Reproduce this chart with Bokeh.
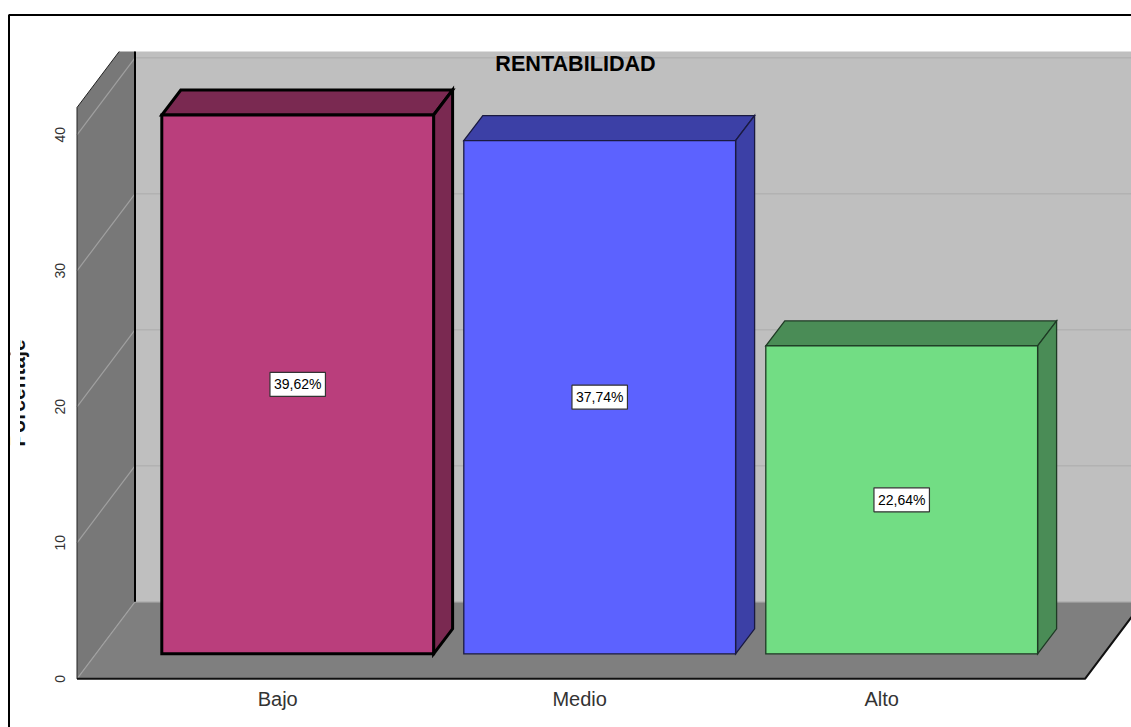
from bokeh.plotting import figure
from bokeh.models import Range1d, FixedTicker, LinearAxis, BoxAnnotation
from bokeh.core.properties import value
from bokeh.embed import file_html
from bokeh.resources import INLINE

categories = ["Bajo", "Medio", "Alto"]
percentages = [39.62, 37.74, 22.64]
value_labels = ["39,62%", "37,74%", "22,64%"]
y_ticks = [0, 10, 20, 30, 40]
front_colors = ["#ba3e7c", "#5c62ff", "#72dd84"]
dark_colors = ["#7a2951", "#3c40a6", "#4a8c56"]
edge_colors = ["#000000", "#1a1a40", "#1e3a24"]
edge_widths = [3, 1.3, 1.3]

# geometry of the pseudo-3D box (px per unit)
PX_CAT, PX_VAL, X0_PX, Y0_PX = 302.0, 13.6, 297.2, 678.3
def X(px): return (px - X0_PX) / PX_CAT
def Y(px): return (Y0_PX - px) / PX_VAL

WALL_DX, WALL_DY = 58 / PX_CAT, 77 / PX_VAL
BAR_DX, BAR_DY = 19 / PX_CAT, 25 / PX_VAL
BAR_W = 0.9
BAR_BASE = 25 / PX_VAL
TICK_SHIFT = 20 / PX_CAT
AX_L, AX_R = X(76.5), X(1084.5)
WALL_TOP = Y(107)
CUT = Y(51)
CUT_X = AX_L + WALL_DX * (CUT - WALL_TOP) / WALL_DY

p = figure(width=1131, height=727, output_backend="svg", toolbar_location=None,
           x_range=Range1d(X(0), X(1131)), y_range=Range1d(Y(727), Y(0)),
           min_border_left=0, min_border_right=0, min_border_top=0, min_border_bottom=0,
           outline_line_color=None, background_fill_color="white", border_fill_color="white",
           x_axis_location=None, y_axis_location=None)
p.grid.visible = False

# walls and floor
p.patch([AX_L + WALL_DX, AX_R + WALL_DX, AX_R + WALL_DX, AX_L + WALL_DX],
        [WALL_DY, WALL_DY, CUT, CUT], fill_color="#bfbfbf", line_color=None)
p.patch([AX_L, AX_L + WALL_DX, AX_L + WALL_DX, CUT_X, AX_L],
        [0, WALL_DY, CUT, CUT, WALL_TOP], fill_color="#787878", line_color=None)
p.patch([AX_L, AX_R, AX_R + WALL_DX, AX_L + WALL_DX],
        [0, 0, WALL_DY, WALL_DY], fill_color="#7f7f7f", line_color=None)

# gridlines
p.multi_line([[AX_L + WALL_DX, AX_R + WALL_DX] for _ in y_ticks],
             [[t + WALL_DY, t + WALL_DY] for t in y_ticks], line_color="#b2b2b2", line_width=1.5)
p.multi_line([[AX_L, AX_L + WALL_DX] for _ in y_ticks],
             [[t, t + WALL_DY] for t in y_ticks], line_color="#a0a0a0", line_width=1.2)

# box edges
p.line([AX_L + WALL_DX, AX_L + WALL_DX], [WALL_DY, CUT], line_color="#000000", line_width=2)
p.line([AX_L, AX_L], [0, WALL_TOP], line_color="#222222", line_width=1)
p.line([AX_L, CUT_X], [WALL_TOP, CUT], line_color="#222222", line_width=1)
p.line([AX_L, AX_R, AX_R + WALL_DX], [0, 0, WALL_DY], line_color="#111111", line_width=2)

# bars
for i, v in enumerate(percentages):
    l, r = i - BAR_W / 2, i + BAR_W / 2
    b, t = BAR_BASE, BAR_BASE + v
    p.patch([l, r, r + BAR_DX, l + BAR_DX], [t, t, t + BAR_DY, t + BAR_DY],
            fill_color=dark_colors[i], line_color=edge_colors[i], line_width=edge_widths[i], line_join="miter")
    p.patch([r, r + BAR_DX, r + BAR_DX, r], [b, b + BAR_DY, t + BAR_DY, t],
            fill_color=dark_colors[i], line_color=edge_colors[i], line_width=edge_widths[i], line_join="miter")
    p.quad(left=[l], right=[r], bottom=[b], top=[t],
           fill_color=front_colors[i], line_color=edge_colors[i], line_width=edge_widths[i], line_join="miter")

# value labels
p.text(x=list(range(len(categories))), y=[BAR_BASE + v / 2 for v in percentages], text=value_labels,
       text_font=value("Liberation Sans"), text_font_size="14px", text_color="#000000",
       text_align="center", text_baseline="middle",
       background_fill_color="white", border_line_color="#333333", border_line_width=1.2,
       padding=4)

# title drawn on the wall
p.text(x=[X(575)], y=[Y(63)], text=["RENTABILIDAD"], text_font=value("Liberation Sans"),
       text_font_size="21.6px", text_font_style="bold", text_color="#000000",
       text_align="center", text_baseline="middle")

# axes
cat_ticks = [i - TICK_SHIFT for i in range(len(categories))]
yax = LinearAxis(ticker=FixedTicker(ticks=y_ticks), bounds=(0, 42), fixed_location=AX_L,
                 axis_label="Porcentaje",
                 axis_line_color=None, major_tick_line_color=None, minor_tick_line_color=None,
                 major_tick_out=0, major_tick_in=0, minor_tick_out=0, minor_tick_in=0,
                 major_label_orientation="vertical", major_label_standoff=12,
                 major_label_text_font="Liberation Sans", major_label_text_font_size="14px",
                 major_label_text_color="#333333",
                 axis_label_text_font="Liberation Sans", axis_label_text_font_size="21px",
                 axis_label_text_font_style="bold", axis_label_text_color="#111111",
                 axis_label_standoff=24)
xax = LinearAxis(ticker=FixedTicker(ticks=cat_ticks), fixed_location=0,
                 major_label_overrides={t: c for t, c in zip(cat_ticks, categories)},
                 axis_line_color=None, major_tick_line_color=None, minor_tick_line_color=None,
                 major_tick_out=0, major_tick_in=0, minor_tick_out=0, minor_tick_in=0,
                 major_label_standoff=9, major_label_text_font="Liberation Sans",
                 major_label_text_font_size="20px", major_label_text_color="#333333")
p.add_layout(yax, "left")
p.add_layout(xax, "below")

# clip of the axis label, outer frame
p.add_layout(BoxAnnotation(left=X(10), right=X(19.5), top=Y(300), bottom=Y(470),
                           fill_color="white", fill_alpha=1, line_color=None))
p.quad(left=[X(8.5)], right=[X(1300)], top=[Y(14.5)], bottom=[Y(900)], fill_alpha=0,
       line_color="#000000", line_width=2)

open("out.html", "w").write(file_html(p, INLINE))
